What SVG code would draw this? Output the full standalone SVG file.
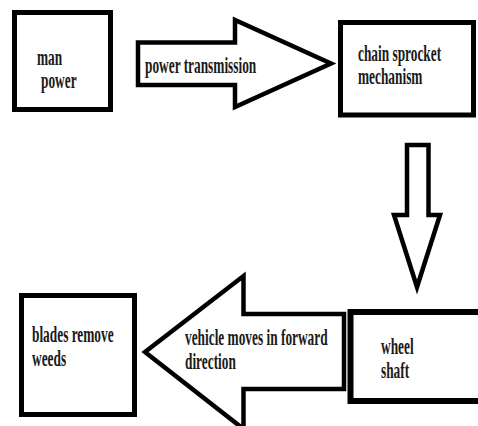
<svg xmlns="http://www.w3.org/2000/svg" width="478" height="426" viewBox="0 0 478 426">
<style>
.box{fill:#fff;stroke:#000;stroke-width:5}
.arr{fill:#fff;stroke:#000;stroke-width:4.5;stroke-linejoin:miter}
.t{font-family:"Liberation Serif","Times New Roman",serif;font-weight:bold;font-size:23px;fill:#1a1a1a}
</style>
<rect width="478" height="426" fill="#fff"/>
<g id="connectors">
<path class="arr" d="M138,42.5 H235 V20 L331,63.5 L235,107 V85 H138 Z"/>
<path class="arr" d="M407,145 H428.5 V215 H440 L417,287 L394,215 H407 Z"/>
<path class="arr" d="M344,314 V389 H243.5 V429 L145,352 L243.5,276 V314 Z"/>
<text class="t" transform="translate(145,73) scale(0.58,1)">power transmission</text>
<text class="t" transform="translate(185,345) scale(0.58,1)">vehicle moves in forward</text>
<text class="t" transform="translate(185,369) scale(0.58,1)">direction</text>
</g>
<g id="man-power">
<rect class="box" x="14.5" y="12.5" width="96" height="97"/>
<text class="t" transform="translate(37,65) scale(0.58,1)">man</text>
<text class="t" transform="translate(41,88) scale(0.58,1)">power</text>
</g>
<g id="chain-sprocket">
<rect class="box" x="340.5" y="22.5" width="133" height="92.5"/>
<text class="t" transform="translate(358,61) scale(0.58,1)">chain sprocket</text>
<text class="t" transform="translate(358,84) scale(0.58,1)">mechanism</text>
</g>
<g id="wheel-shaft">
<rect class="box" x="350.5" y="312" width="140" height="89" style="stroke-width:6"/>
<text class="t" transform="translate(381,354) scale(0.58,1)">wheel</text>
<text class="t" transform="translate(381,378) scale(0.58,1)">shaft</text>
</g>
<g id="blades-remove-weeds">
<rect class="box" x="21.5" y="295.5" width="113" height="119"/>
<text class="t" transform="translate(32,342) scale(0.58,1)">blades remove</text>
<text class="t" transform="translate(32,366) scale(0.58,1)">weeds</text>
</g>
</svg>
